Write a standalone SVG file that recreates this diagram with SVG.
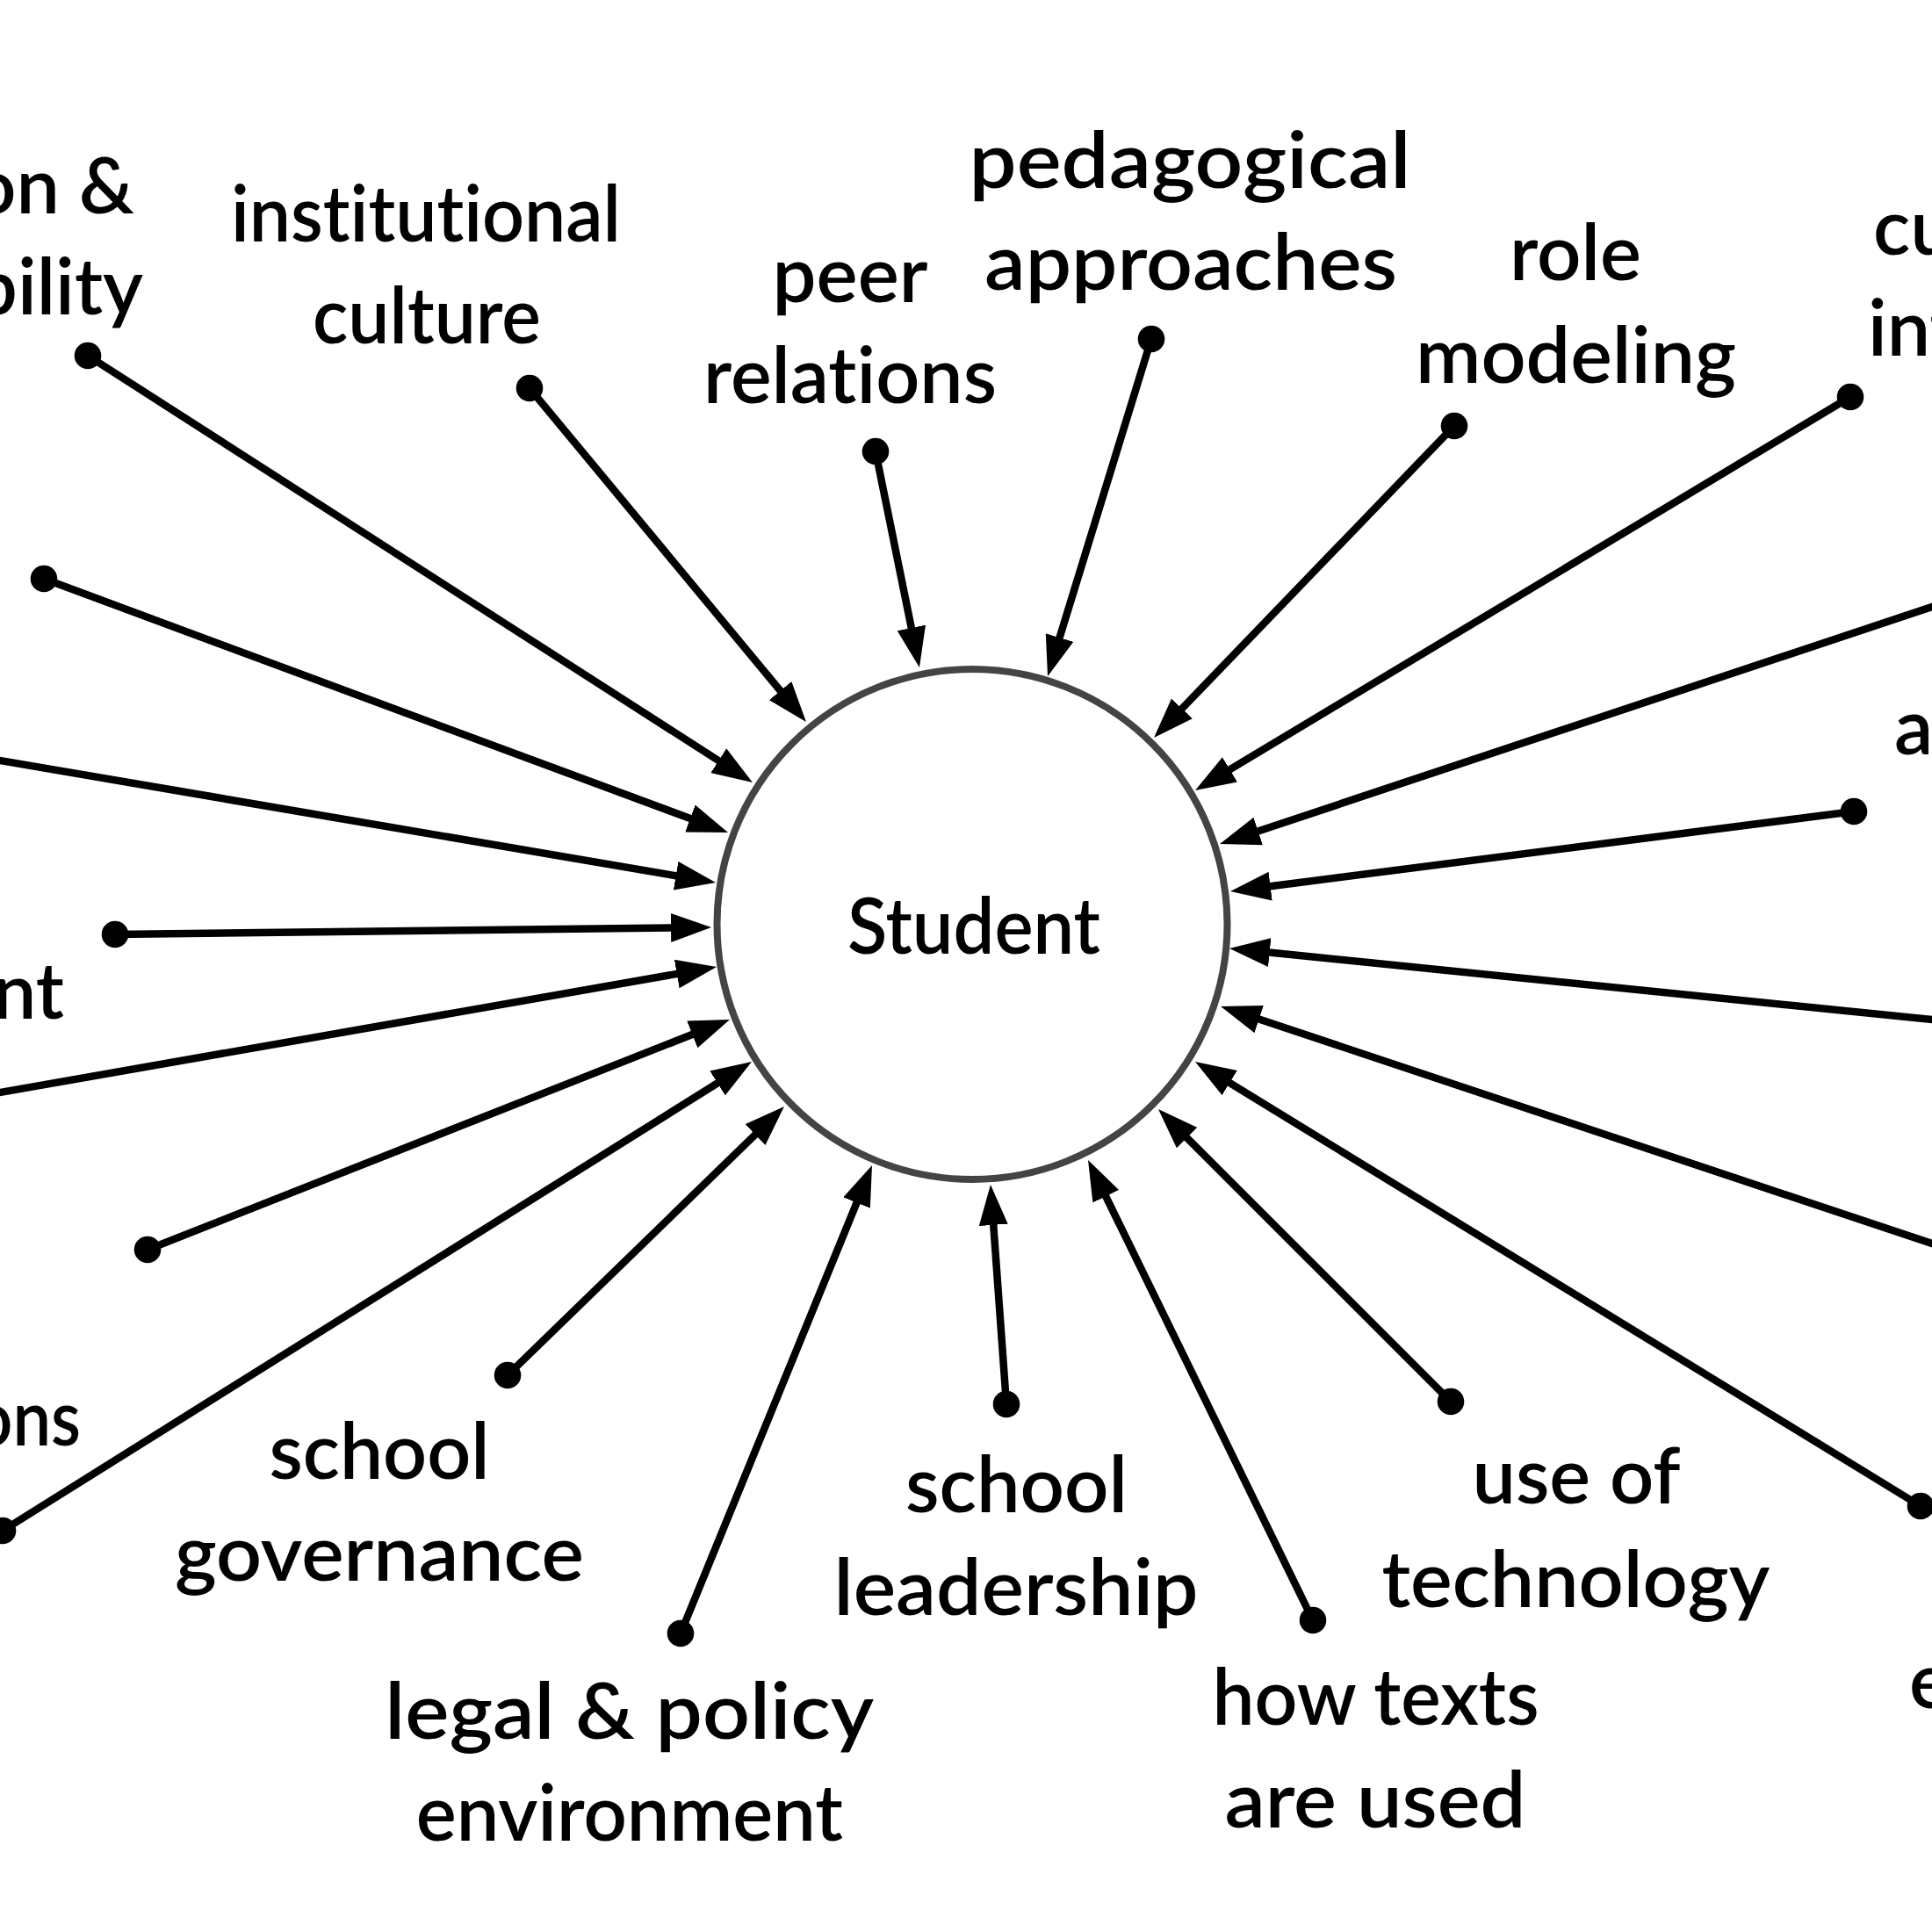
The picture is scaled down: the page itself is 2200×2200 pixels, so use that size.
<svg xmlns="http://www.w3.org/2000/svg" width="2200" height="2200" viewBox="0 0 2200 2200">
<style>
.lbl{font-family:Lato,"Liberation Sans",sans-serif;font-size:88px;font-weight:600;fill:#000;text-anchor:middle;font-variant-ligatures:none;font-feature-settings:"liga" 0}
.end{text-anchor:end}
.start{text-anchor:start}
.con{stroke:#000;stroke-width:8.5;fill:none;marker-end:url(#arr)}
.dot{fill:#000}
</style>
<defs>
<marker id="arr" markerUnits="userSpaceOnUse" viewBox="0 0 46 33" markerWidth="46" markerHeight="33" refX="8" refY="16.5" orient="auto">
<path d="M0,0 L46,16.5 L0,33 Z" fill="#000"/>
</marker>
</defs>
<rect width="2200" height="2200" fill="#fff"/>
<g id="connectors">
<line class="con" x1="100" y1="405" x2="825" y2="870.5"/>
<line class="con" x1="603" y1="442" x2="893.7" y2="792.7"/>
<line class="con" x1="997" y1="514" x2="1039.4" y2="722.8"/>
<line class="con" x1="1311" y1="386" x2="1204.2" y2="733.7"/>
<line class="con" x1="1656" y1="485" x2="1340.4" y2="812.6"/>
<line class="con" x1="2107" y1="452" x2="1393.6" y2="880.4"/>
<line class="con" x1="2228.5" y1="681.5" x2="1425.1" y2="949"/>
<line class="con" x1="2111" y1="924" x2="1438.7" y2="1010.2"/>
<line class="con" x1="2230" y1="1164" x2="1437.8" y2="1083.8"/>
<line class="con" x1="2228.5" y1="1425.5" x2="1426.1" y2="1158"/>
<line class="con" x1="2187" y1="1715" x2="1393.4" y2="1228.9"/>
<line class="con" x1="1652" y1="1596" x2="1345.9" y2="1289.9"/>
<line class="con" x1="1495" y1="1845" x2="1255.7" y2="1355.1"/>
<line class="con" x1="1146" y1="1599" x2="1130.7" y2="1386.9"/>
<line class="con" x1="775" y1="1860" x2="978.6" y2="1362.2"/>
<line class="con" x1="578" y1="1566" x2="865.7" y2="1286.5"/>
<line class="con" x1="3" y1="1743" x2="823.8" y2="1229.2"/>
<line class="con" x1="168" y1="1423" x2="795.7" y2="1175"/>
<line class="con" x1="-30" y1="1249.2" x2="778.6" y2="1107.6"/>
<line class="con" x1="131" y1="1064" x2="772" y2="1056.4"/>
<line class="con" x1="-30" y1="860.9" x2="777.5" y2="998.6"/>
<line class="con" x1="50" y1="659" x2="793.4" y2="934.8"/>
</g>
<g id="student">
<circle cx="1107" cy="1052.5" r="290.5" fill="none" stroke="#444" stroke-width="8"/>
<text class="lbl" x="1109" y="1086" textLength="288" lengthAdjust="spacingAndGlyphs">Student</text>
</g>
<g id="n-accountability"><circle class="dot" cx="100" cy="405" r="15.3"/><text class="lbl end" x="153" y="243">on &amp;</text><text class="lbl end" x="163" y="358">bility</text></g>
<g id="n-institutional"><circle class="dot" cx="603" cy="442" r="15.3"/><text class="lbl" x="485" y="275" textLength="444" lengthAdjust="spacingAndGlyphs">institutional</text><text class="lbl" x="486" y="391" textLength="260" lengthAdjust="spacingAndGlyphs">culture</text></g>
<g id="n-peer"><circle class="dot" cx="997" cy="514" r="15.3"/><text class="lbl" x="968" y="344" textLength="177" lengthAdjust="spacingAndGlyphs">peer</text><text class="lbl" x="968" y="459" textLength="334" lengthAdjust="spacingAndGlyphs">relations</text></g>
<g id="n-pedagogical"><circle class="dot" cx="1311" cy="386" r="15.3"/><text class="lbl" x="1355" y="214" textLength="503" lengthAdjust="spacingAndGlyphs">pedagogical</text><text class="lbl" x="1356" y="330" textLength="470" lengthAdjust="spacingAndGlyphs">approaches</text></g>
<g id="n-role"><circle class="dot" cx="1656" cy="485" r="15.3"/><text class="lbl" x="1794" y="319" textLength="150" lengthAdjust="spacingAndGlyphs">role</text><text class="lbl" x="1794.5" y="436" textLength="365" lengthAdjust="spacingAndGlyphs">modeling</text></g>
<g id="n-cultural"><circle class="dot" cx="2107" cy="452" r="15.3"/><text class="lbl start" x="2133" y="290">cu</text><text class="lbl start" x="2127" y="405">int</text></g>
<g id="n-a"><circle class="dot" cx="2111" cy="924" r="15.3"/><text class="lbl start" x="2157" y="859">a</text></g>
<g id="n-e"><circle class="dot" cx="2187" cy="1715" r="15.3"/><text class="lbl start" x="2174" y="1945">e</text></g>
<g id="n-technology"><circle class="dot" cx="1652" cy="1596" r="15.3"/><text class="lbl" x="1795" y="1712" textLength="237" lengthAdjust="spacingAndGlyphs">use of</text><text class="lbl" x="1794.5" y="1830" textLength="442" lengthAdjust="spacingAndGlyphs">technology</text></g>
<g id="n-texts"><circle class="dot" cx="1495" cy="1845" r="15.3"/><text class="lbl" x="1566.5" y="1964" textLength="372" lengthAdjust="spacingAndGlyphs">how texts</text><text class="lbl" x="1566" y="2081" textLength="343" lengthAdjust="spacingAndGlyphs">are used</text></g>
<g id="n-leadership"><circle class="dot" cx="1146" cy="1599" r="15.3"/><text class="lbl" x="1157.5" y="1722" textLength="253" lengthAdjust="spacingAndGlyphs">school</text><text class="lbl" x="1157" y="1839" textLength="415" lengthAdjust="spacingAndGlyphs">leadership</text></g>
<g id="n-legal"><circle class="dot" cx="775" cy="1860" r="15.3"/><text class="lbl" x="716.7" y="1980" textLength="557" lengthAdjust="spacingAndGlyphs">legal &amp; policy</text><text class="lbl" x="716.8" y="2096" textLength="486" lengthAdjust="spacingAndGlyphs">environment</text></g>
<g id="n-governance"><circle class="dot" cx="578" cy="1566" r="15.3"/><text class="lbl" x="432" y="1684" textLength="251" lengthAdjust="spacingAndGlyphs">school</text><text class="lbl" x="432" y="1800" textLength="466" lengthAdjust="spacingAndGlyphs">governance</text></g>
<g id="n-ons"><circle class="dot" cx="3" cy="1743" r="15.3"/><text class="lbl end" x="92" y="1646" textLength="122" lengthAdjust="spacingAndGlyphs">ons</text></g>
<g id="n-left1"><circle class="dot" cx="168" cy="1423" r="15.3"/></g>
<g id="n-nt"><circle class="dot" cx="131" cy="1064" r="15.3"/><text class="lbl end" x="73" y="1160">nt</text></g>
<g id="n-left2"><circle class="dot" cx="50" cy="659" r="15.3"/></g>
</svg>
